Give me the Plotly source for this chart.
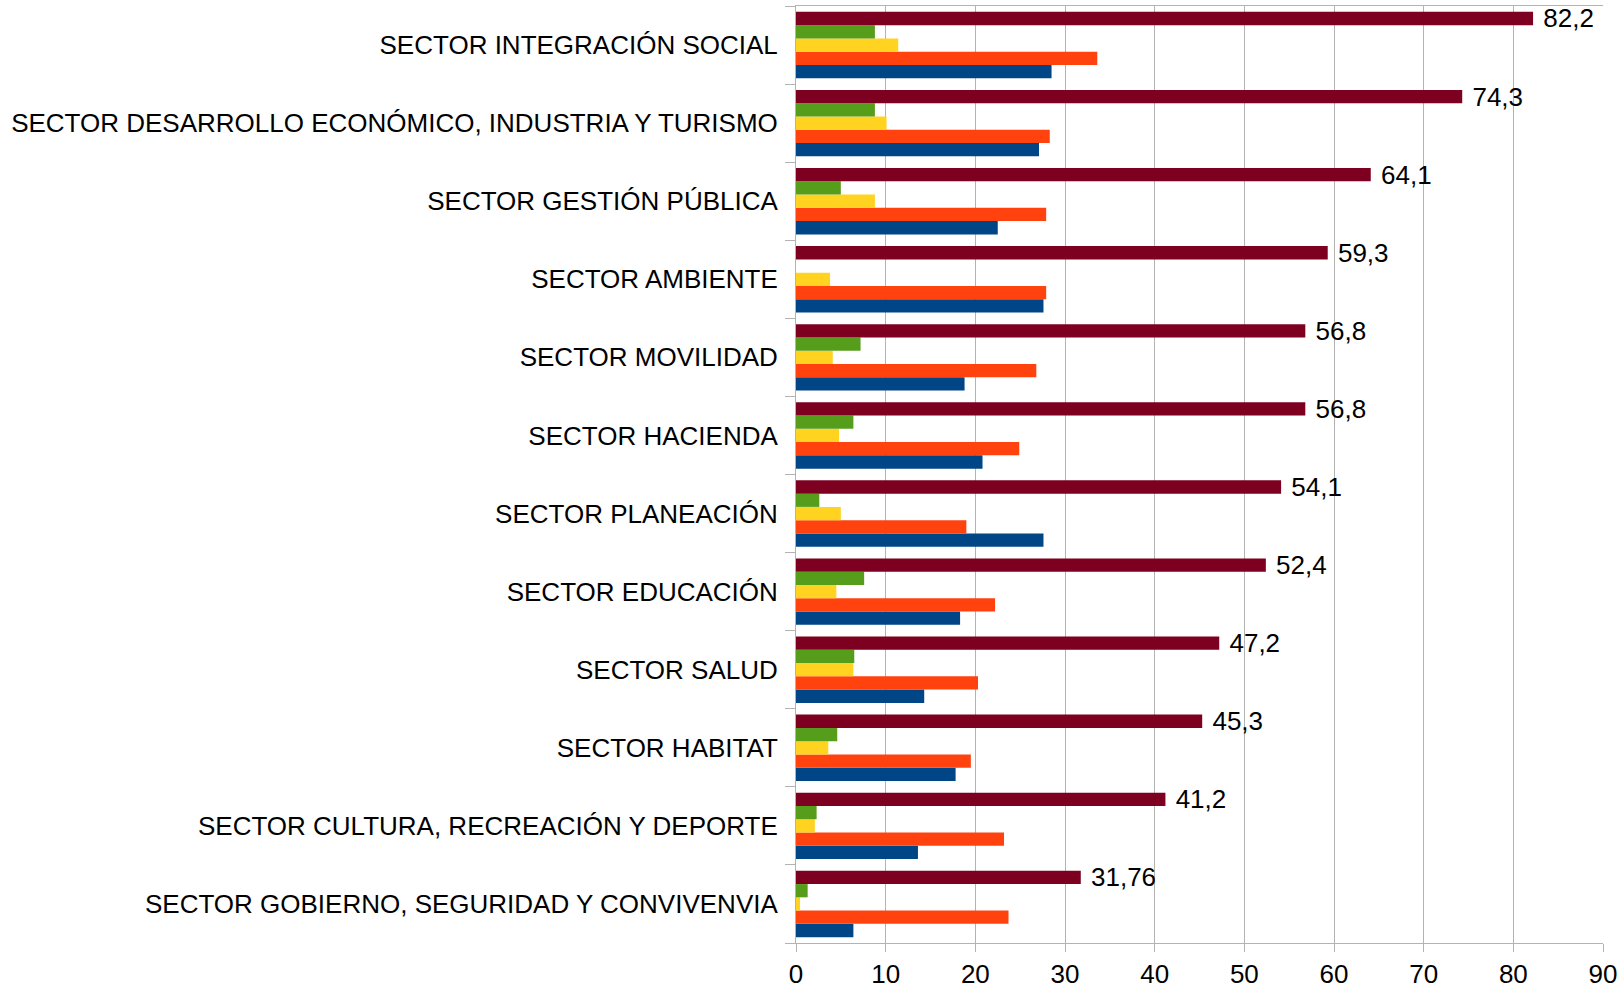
import plotly.graph_objects as go

# Categories listed bottom to top, as Plotly draws them.
SECTORS = [
    "SECTOR GOBIERNO, SEGURIDAD Y CONVIVENVIA",
    "SECTOR CULTURA, RECREACIÓN Y DEPORTE",
    "SECTOR HABITAT",
    "SECTOR SALUD",
    "SECTOR EDUCACIÓN",
    "SECTOR PLANEACIÓN",
    "SECTOR HACIENDA",
    "SECTOR MOVILIDAD",
    "SECTOR AMBIENTE",
    "SECTOR GESTIÓN PÚBLICA",
    "SECTOR DESARROLLO ECONÓMICO, INDUSTRIA Y TURISMO",
    "SECTOR INTEGRACIÓN SOCIAL",
]

TOTAL = [31.76, 41.2, 45.3, 47.2, 52.4, 54.1, 56.8, 56.8, 59.3, 64.1, 74.3, 82.2]
TOTAL_LABELS = ["31,76", "41,2", "45,3", "47,2", "52,4", "54,1",
                "56,8", "56,8", "59,3", "64,1", "74,3", "82,2"]
GREEN = [1.3, 2.3, 4.6, 6.5, 7.6, 2.6, 6.4, 7.2, 0, 5.0, 8.8, 8.8]
YELLOW = [0.45, 2.1, 3.6, 6.4, 4.5, 5.0, 4.8, 4.1, 3.8, 8.8, 10.1, 11.4]
ORANGE = [23.7, 23.2, 19.5, 20.3, 22.2, 19.0, 24.9, 26.8, 27.9, 27.9, 28.3, 33.6]
BLUE = [6.4, 13.6, 17.8, 14.3, 18.3, 27.6, 20.8, 18.8, 27.6, 22.5, 27.1, 28.5]

FONT = "Liberation Sans, Arial, sans-serif"
GRID = "#b3b3b3"
SIZE = 26

# First trace sits lowest inside each group.
series = [
    (BLUE, "#004586"),
    (ORANGE, "#ff420e"),
    (YELLOW, "#ffd320"),
    (GREEN, "#579d1c"),
]

fig = go.Figure()
for vals, color in series:
    fig.add_trace(go.Bar(x=vals, y=SECTORS, orientation="h", marker_color=color,
                         marker_line_width=0, hoverinfo="x+y"))

fig.add_trace(go.Bar(
    x=TOTAL, y=SECTORS, orientation="h", marker_color="#7e0021",
    marker_line_width=0,
    text=["\u00a0" + t for t in TOTAL_LABELS], textposition="outside",
    textfont=dict(size=SIZE, color="#000000", family=FONT),
    constraintext="none", cliponaxis=False,
))

fig.update_layout(
    width=1620, height=990,
    barmode="group", bargap=0.15, bargroupgap=0,
    showlegend=False,
    plot_bgcolor="white", paper_bgcolor="white",
    font=dict(family=FONT, size=SIZE, color="#000000"),
    margin=dict(l=796, r=17, t=6, b=47, autoexpand=False),
)
fig.update_xaxes(
    range=[0, 90], dtick=10, showgrid=True, gridcolor=GRID, gridwidth=1,
    showline=True, linecolor=GRID, linewidth=1, mirror=True,
    ticks="outside", ticklen=8, tickcolor=GRID,
    tickfont=dict(size=SIZE), zeroline=False, fixedrange=True,
)
fig.update_yaxes(
    showline=True, linecolor=GRID, linewidth=1,
    ticks="outside", ticklen=10, tickcolor=GRID, tickson="boundaries",
    tickfont=dict(size=SIZE), ticklabelstandoff=12, showgrid=False,
    automargin=False, fixedrange=True,
)

fig.write_html("out.html", config={"displayModeBar": False},
               post_script="document.body.style.margin='0';")
